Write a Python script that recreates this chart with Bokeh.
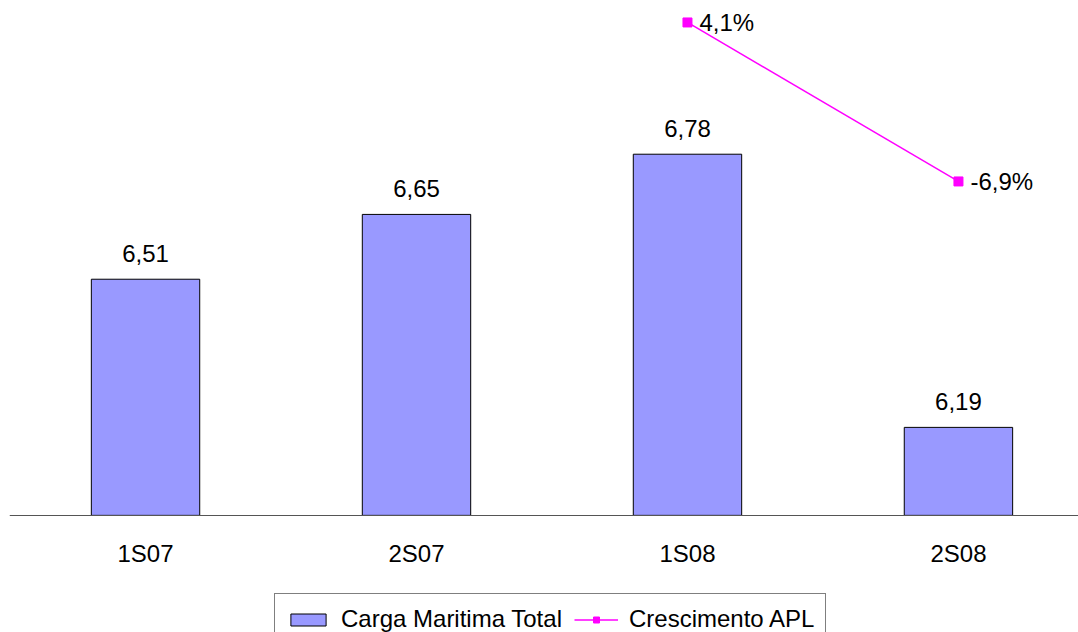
from bokeh.plotting import figure
from bokeh.models import Range1d, FixedTicker, Legend, LegendItem, ColumnDataSource
from bokeh.core.properties import value
from bokeh.embed import file_html
from bokeh.resources import INLINE

categories = ["1S07", "2S07", "1S08", "2S08"]
cargo = [6.51, 6.65, 6.78, 6.19]
growth_categories = ["1S08", "2S08"]
growth = [4.1, -6.9]

FONT = "Liberation Sans"
FS = "24px"

xs = list(range(len(categories)))
bar_src = ColumnDataSource(dict(
    x=xs, top=cargo,
    label=[f"{v:.2f}".replace(".", ",") for v in cargo],
))
gx = [categories.index(c) for c in growth_categories]
line_src = ColumnDataSource(dict(
    x=gx, y=growth,
    label=[f"{v:.1f}".replace(".", ",") + "%" for v in growth],
))

p = figure(frame_width=1069, frame_height=632, output_backend="svg", toolbar_location=None,
           x_range=Range1d(-0.502, 3.443), y_range=Range1d(5.747, 7.112),
           min_border_left=9, min_border_right=0, min_border_top=0, min_border_bottom=0)
p.extra_y_ranges = {"g": Range1d(-38.11, 5.62)}

bars = p.vbar(x="x", top="top", bottom=6.0, width=0.4, source=bar_src,
              fill_color="#9999FF", line_color="black", line_width=1)
p.text(x="x", y="top", text="label", source=bar_src, text_align="center",
       text_baseline="alphabetic", y_offset=-26, text_font=value(FONT),
       text_font_size=FS, text_color="black")

ln = p.line(x="x", y="y", source=line_src, y_range_name="g",
            line_color="#FF00FF", line_width=1.5)
mk = p.scatter(x="x", y="y", source=line_src, y_range_name="g", marker="square",
               size=9, fill_color="#FF00FF", line_color="#FF00FF")
p.text(x="x", y="y", text="label", source=line_src, y_range_name="g",
       text_align="left", text_baseline="middle", x_offset=12,
       text_font=value(FONT), text_font_size=FS, text_color="black")

p.xgrid.visible = False
p.ygrid.visible = False
p.yaxis.visible = False
p.outline_line_color = None

ax = p.xaxis[0]
ax.fixed_location = 6.0
ax.ticker = FixedTicker(ticks=xs)
ax.major_label_overrides = {i: c for i, c in enumerate(categories)}
ax.major_tick_line_color = None
ax.minor_tick_line_color = None
ax.major_tick_out = 0
ax.major_tick_in = 0
ax.major_label_standoff = 25
ax.axis_line_color = "#555555"
ax.axis_line_width = 1
ax.major_label_text_font = FONT
ax.major_label_text_font_size = FS
ax.major_label_text_color = "black"

legend = Legend(items=[
    LegendItem(label="Carga Maritima Total", renderers=[bars]),
    LegendItem(label="Crescimento APL", renderers=[ln, mk]),
], orientation="horizontal", location=(265, -13))
legend.label_text_font = FONT
legend.label_text_font_size = FS
legend.label_text_color = "black"
legend.border_line_color = "black"
legend.border_line_width = 1
legend.background_fill_color = "white"
legend.background_fill_alpha = 1
legend.glyph_width = 44
legend.glyph_height = 15
legend.label_standoff = 11
legend.spacing = 12
legend.padding = 11
legend.margin = 0
legend.label_height = 24
p.add_layout(legend, "center")

open("out.html", "w").write(file_html(p, INLINE))
